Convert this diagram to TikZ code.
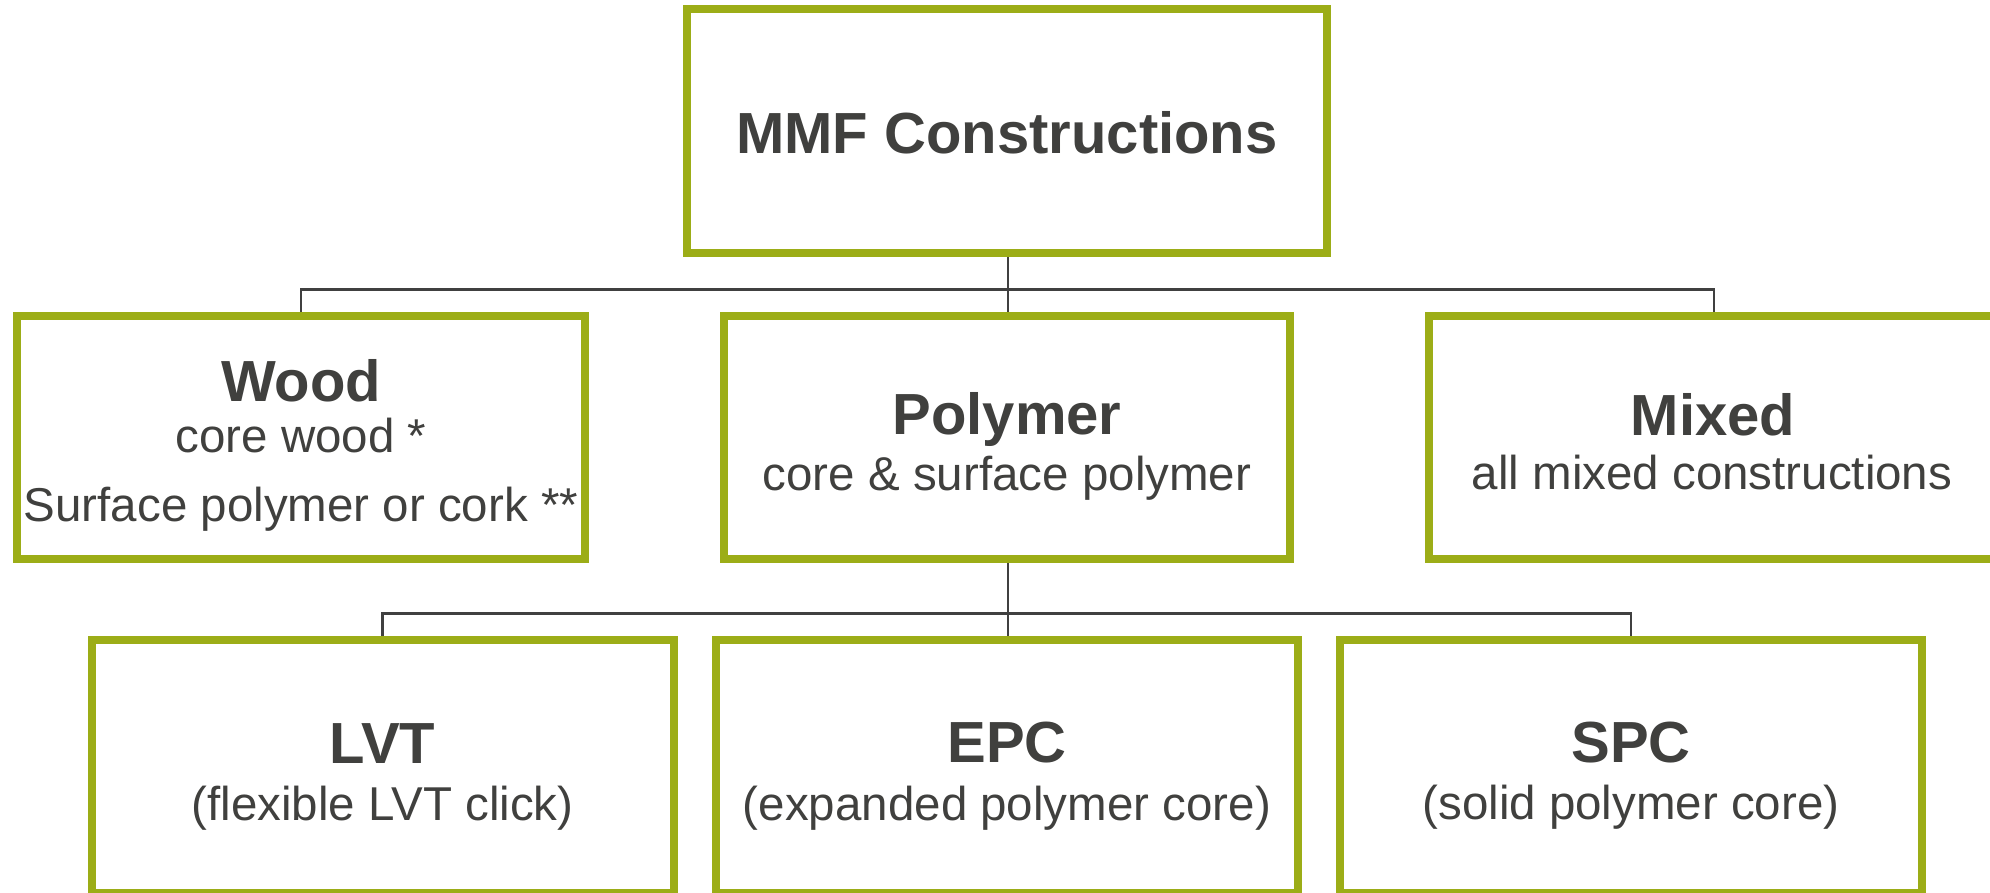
\documentclass[tikz,border=0pt]{standalone}
\usepackage{fontspec}
\setmainfont{Liberation Sans}
\definecolor{boxgreen}{RGB}{156,173,23}
\definecolor{txtgray}{RGB}{64,64,62}
\definecolor{linegray}{RGB}{64,64,64}
\tikzset{
  box/.style={draw=boxgreen, line width=8pt, fill=white, rectangle, inner sep=0pt},
  toprow/.style={box, minimum width=568pt, minimum height=243pt},
  botrow/.style={box, minimum width=582pt, minimum height=253pt},
  conn/.style={draw=linegray, line width=2.8pt},
  ttl/.style={anchor=base, inner sep=0pt, text=txtgray, font=\bfseries\fontsize{58}{60}\selectfont},
  sub/.style={anchor=base, inner sep=0pt, text=txtgray, font=\fontsize{47.5}{50}\selectfont}
}
\begin{document}
\begin{tikzpicture}[x=1pt, y=-1pt]
\useasboundingbox (0,0) rectangle (1990,893);
\fill[white] (0,0) rectangle (1990,893);

% boxes
\node[box, minimum width=639.5pt, minimum height=244.5pt] (top) at (1007,131.25) {};
\node[toprow] (wood) at (301,437.5) {};
\node[toprow, minimum width=566.5pt] (poly) at (1006.75,437.5) {};
\node[toprow, minimum width=571pt] (mixed) at (1714,437.5) {};
\node[botrow] (lvt) at (382.6,766.5) {};
\node[botrow] (epc) at (1006.75,766.5) {};
\node[botrow] (spc) at (1631,766.5) {};

% connectors
\coordinate (b1) at (1008,289.3);
\coordinate (b2) at (1008,613.3);
\draw[conn] (top.south -| b1) -- (b1);
\draw[conn] (b1) -- (poly.north -| b1);
\draw[conn] (wood.north) |- (b1) -| (mixed.north);
\draw[conn] (poly.south -| b2) -- (b2);
\draw[conn] (b2) -- (epc.north -| b2);
\draw[conn] (lvt.north) |- (b2) -| (spc.north);

% texts
\node[ttl] (t0) at (1007,154) {MMF Constructions};

\node[ttl] (t1) at (301,401.7) {Wood};
\node[sub] (t1a) at (301,452.7) {core wood *};
\node[sub] (t1b) at (301,521.7) {Surface polymer or cork **};

\node[ttl] (t2) at (1007,434) {Polymer};
\node[sub] (t2a) at (1007,490) {core \& surface polymer};

\node[ttl] (t3) at (1713,435) {Mixed};
\node[sub] (t3a) at (1712,489) {all mixed constructions};

\node[ttl] (t4) at (382.6,763) {LVT};
\node[sub] (t4a) at (382.6,820) {(flexible LVT click)};

\node[ttl] (t5) at (1007,762.6) {EPC};
\node[sub] (t5a) at (1007,820) {(expanded polymer core)};

\node[ttl] (t6) at (1631,762.3) {SPC};
\node[sub] (t6a) at (1631,819) {(solid polymer core)};
\end{tikzpicture}
\end{document}
